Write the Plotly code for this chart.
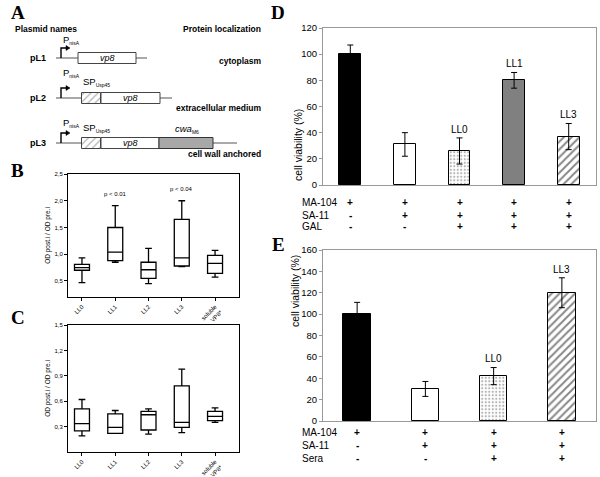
import plotly.graph_objects as go

W, H = 600, 477
SANS = "Liberation Sans, Arial, sans-serif"
SERIF = "Liberation Serif, Times New Roman, serif"

# ---------------- data ----------------
box_cats = ["LL0", "LL1", "LL2", "LL3", "soluble<br>VP8*"]
# panel B
b_low = [0.47, 0.85, 0.45, 0.77, 0.57]
b_q1 = [0.70, 0.88, 0.55, 0.78, 0.64]
b_med = [0.75, 1.04, 0.71, 0.93, 0.83]
b_q3 = [0.81, 1.50, 0.85, 1.65, 0.98]
b_high = [0.93, 1.91, 1.11, 2.00, 1.07]
b_pvals = {"LL1": ("p < 0.01", 2.04), "LL3": ("p < 0.04", 2.12)}
# panel C
c_low = [0.19, 0.22, 0.21, 0.23, 0.35]
c_q1 = [0.25, 0.22, 0.26, 0.29, 0.37]
c_med = [0.335, 0.29, 0.44, 0.35, 0.42]
c_q3 = [0.51, 0.45, 0.48, 0.78, 0.48]
c_high = [0.62, 0.49, 0.51, 0.98, 0.52]
c_tickvals = [0.3, 0.6, 0.9, 1.2, 1.5]
c_ticktext = ["0,3", "0,6", "0,9", "1,2", "1,5"]
b_tickvals = [0.5, 1.0, 1.5, 2.0, 2.5]
b_ticktext = ["0,5", "1,0", "1,5", "2,0", "2,5"]

# panel D
d_vals = [100, 31, 26, 80, 37]
d_err = [7, 9, 10, 6, 10]
d_labels = ["", "", "LL0", "LL1", "LL3"]
d_rows = ["MA-104", "SA-11", "GAL"]
d_table = [["+", "+", "+", "+", "+"],
           ["-", "+", "+", "+", "+"],
           ["-", "-", "+", "+", "+"]]
# panel E
e_vals = [100, 30, 42, 120]
e_err = [11, 7, 8, 14]
e_labels = ["", "", "LL0", "LL3"]
e_rows = ["MA-104", "SA-11", "Sera"]
e_table = [["+", "+", "+", "+"],
           ["-", "+", "+", "+"],
           ["-", "-", "+", "+"]]

# panel A constructs
plasmids = ["pL1", "pL2", "pL3"]
localization = ["cytoplasm", "extracellular medium", "cell wall anchored"]

# bar styles: (fill colour, pattern shape)
d_styles = [("black", ""), ("white", ""), ("white", "."), ("#808080", ""), ("white", "/")]
e_styles = [("black", ""), ("white", ""), ("white", "."), ("white", "/")]


def px(x):
    return x / W


def py(y):
    return 1 - y / H


fig = go.Figure()
annotations = []
shapes = []

# ---------------- panel B ----------------
for i, c in enumerate(box_cats):
    fig.add_trace(go.Box(
        x=[c], q1=[b_q1[i]], median=[b_med[i]], q3=[b_q3[i]],
        lowerfence=[b_low[i]], upperfence=[b_high[i]],
        xaxis="x", yaxis="y", fillcolor="white",
        line=dict(color="black", width=1.3), whiskerwidth=0.45,
        width=0.45, showlegend=False, hoverinfo="skip"))
for k, (t, yv) in b_pvals.items():
    annotations.append(dict(x=k, y=yv, xref="x", yref="y", text=t, showarrow=False,
                            font=dict(size=6, family=SANS, color="black"), yanchor="bottom"))

# ---------------- panel C ----------------
for i, c in enumerate(box_cats):
    fig.add_trace(go.Box(
        x=[c], q1=[c_q1[i]], median=[c_med[i]], q3=[c_q3[i]],
        lowerfence=[c_low[i]], upperfence=[c_high[i]],
        xaxis="x2", yaxis="y2", fillcolor="white",
        line=dict(color="black", width=1.3), whiskerwidth=0.45,
        width=0.45, showlegend=False, hoverinfo="skip"))

box_x_common = dict(
    tickangle=-45, tickfont=dict(size=6, family=SANS, color="black"),
    showline=True, linecolor="black", linewidth=1, mirror=True,
    ticks="outside", ticklen=3, tickcolor="black", showgrid=False,
    range=[-0.42, 4.72], automargin=False)
box_y_common = dict(
    tickfont=dict(size=6, family=SANS, color="black"),
    showline=True, linecolor="black", linewidth=1, mirror=True,
    ticks="outside", ticklen=3, tickcolor="black", showgrid=False, zeroline=False,
    automargin=False,
    title=dict(text="OD post.i / OD pre.i", font=dict(size=6.5, family=SANS, color="black"), standoff=3))


def add_bars(vals, errs, styles, xa, ya):
    for i, (v, e, (col, shp)) in enumerate(zip(vals, errs, styles)):
        if shp == "/":
            pat = dict(shape="/", fillmode="overlay", fgcolor="#111", size=5.5, solidity=0.35)
        elif shp == ".":
            pat = dict(shape=".", fillmode="overlay", fgcolor="#666", size=3.5, solidity=0.3)
        else:
            pat = dict(shape="")
        fig.add_trace(go.Bar(
            x=[i], y=[v], xaxis=xa, yaxis=ya, width=0.4,
            marker=dict(color=col, line=dict(color="black", width=1), pattern=pat),
            error_y=dict(type="data", array=[e], color="black", thickness=1, width=3),
            showlegend=False, hoverinfo="skip"))


# ---------------- panel D ----------------
add_bars(d_vals, d_err, d_styles, "x3", "y3")
for i, t in enumerate(d_labels):
    if t:
        annotations.append(dict(x=i, y=d_vals[i] + d_err[i] + 1, xref="x3", yref="y3", text=t,
                                showarrow=False, yanchor="bottom",
                                font=dict(size=10, family=SANS, color="black")))
d_row_y = [202, 215, 227]
for r, name in enumerate(d_rows):
    annotations.append(dict(x=px(300), y=py(d_row_y[r]), xref="paper", yref="paper", text=name,
                            showarrow=False, xanchor="left", font=dict(size=10, family=SANS, color="black")))
    for i, s in enumerate(d_table[r]):
        annotations.append(dict(x=i, y=py(d_row_y[r]), xref="x3", yref="paper", text="<b>%s</b>" % s,
                                showarrow=False, font=dict(size=10, family=SANS, color="black")))

# ---------------- panel E ----------------
add_bars(e_vals, e_err, e_styles, "x4", "y4")
for i, t in enumerate(e_labels):
    if t:
        annotations.append(dict(x=i, y=e_vals[i] + e_err[i] + 1, xref="x4", yref="y4", text=t,
                                showarrow=False, yanchor="bottom",
                                font=dict(size=10, family=SANS, color="black")))
e_row_y = [440, 453, 466]
for r, name in enumerate(e_rows):
    annotations.append(dict(x=px(300), y=py(e_row_y[r]), xref="paper", yref="paper", text=name,
                            showarrow=False, xanchor="left", font=dict(size=10, family=SANS, color="black")))
    for i, s in enumerate(e_table[r]):
        annotations.append(dict(x=i, y=py(e_row_y[r]), xref="x4", yref="paper", text="<b>%s</b>" % s,
                                showarrow=False, font=dict(size=10, family=SANS, color="black")))

# y titles for D and E (placed close to the tick labels, as in the original)
annotations.append(dict(x=px(298), y=py(107), xref="paper", yref="paper", text="cell viability (%)",
                        textangle=-90, showarrow=False, font=dict(size=10.5, family=SANS, color="black")))
annotations.append(dict(x=px(295), y=py(329), xref="paper", yref="paper", text="cell viability (%)",
                        textangle=-90, showarrow=False, font=dict(size=10.5, family=SANS, color="black")))

bar_y_common = dict(
    tickfont=dict(size=9.5, family=SANS, color="black"),
    showline=True, linecolor="#999", linewidth=1, mirror=True,
    ticks="outside", ticklen=3, tickcolor="#999", showgrid=False, zeroline=False,
    automargin=False)
bar_x_common = dict(showline=True, linecolor="#999", linewidth=1, mirror=True,
                    showticklabels=False, ticks="", showgrid=False, zeroline=False, automargin=False)

# ---------------- panel A (diagram) ----------------
row_y = [58, 98, 143]
line_end = [147, 172, 237]
p_off = [-18, -25, -20]
prom_x = 61
SUB = "<span style='font-size:5px'>%s</span>"
for r in range(3):
    y0 = row_y[r]
    shapes.append(dict(type="line", xref="x5", yref="y5", x0=56, x1=line_end[r], y0=y0, y1=y0,
                       line=dict(color="#555", width=1.2), layer="below"))
    # promoter arrow
    shapes.append(dict(type="path", xref="x5", yref="y5",
                       path="M %d %d L %d %d L %d %d" % (prom_x, y0, prom_x, y0 - 10, prom_x + 5, y0 - 10),
                       line=dict(color="black", width=1.4)))
    shapes.append(dict(type="path", xref="x5", yref="y5",
                       path="M %d %.1f L %d %d L %d %.1f Z" % (prom_x + 5, y0 - 12.5, prom_x + 9, y0 - 10, prom_x + 5, y0 - 7.5),
                       fillcolor="black", line=dict(color="black", width=0.5)))
    annotations.append(dict(x=prom_x, y=y0 + p_off[r], xref="x5", yref="y5",
                            text="P<sub>" + SUB % "nisA" + "</sub>", showarrow=False, xanchor="left",
                            font=dict(size=9.5, family=SANS, color="black")))
    annotations.append(dict(x=28, y=y0, xref="x5", yref="y5", text="<b>%s</b>" % plasmids[r],
                            showarrow=False, xanchor="left", font=dict(size=9, family=SANS, color="black")))
    annotations.append(dict(x=263, y=y0 + (3 if r == 0 else 10 if r == 1 else 11), xref="x5", yref="y5",
                            text="<b>%s</b>" % localization[r], showarrow=False, xanchor="right",
                            font=dict(size=8.5, family=SANS, color="black")))

# vp8 boxes
vp8_boxes = [(78, 136), (101, 160), (101, 159)]
for r, (x0, x1) in enumerate(vp8_boxes):
    y0 = row_y[r]
    shapes.append(dict(type="rect", xref="x5", yref="y5", x0=x0, x1=x1, y0=y0 - 5.5, y1=y0 + 5.5,
                       fillcolor="white", line=dict(color="#444", width=1)))
    annotations.append(dict(x=(x0 + x1) / 2, y=y0, xref="x5", yref="y5", text="<i>vp8</i>",
                            showarrow=False, font=dict(size=9, family=SANS, color="black")))
# signal peptide (hatched) boxes
sp_rows = [1, 2]
sp_off = [-16, -15]
fig.add_trace(go.Bar(
    y=[row_y[r] for r in sp_rows], x=[19, 19], base=[82, 82], orientation="h", width=11,
    xaxis="x5", yaxis="y5",
    marker=dict(color="white", line=dict(color="#444", width=1),
                pattern=dict(shape="/", fillmode="overlay", fgcolor="#666", size=5, solidity=0.25)),
    showlegend=False, hoverinfo="skip"))
for j, r in enumerate(sp_rows):
    annotations.append(dict(x=81, y=row_y[r] + sp_off[j], xref="x5", yref="y5",
                            text="SP<sub>" + SUB % "Usp45" + "</sub>", showarrow=False, xanchor="left",
                            font=dict(size=9.5, family=SANS, color="black")))
# cell wall anchor
shapes.append(dict(type="rect", xref="x5", yref="y5", x0=159, x1=213, y0=row_y[2] - 5.5, y1=row_y[2] + 5.5,
                   fillcolor="#a8a8a8", line=dict(color="#333", width=1)))
annotations.append(dict(x=187, y=row_y[2] - 14, xref="x5", yref="y5",
                        text="<i>cwa</i><sub>" + SUB % "M6" + "</sub>",
                        showarrow=False, font=dict(size=9.5, family=SANS, color="black")))
annotations.append(dict(x=13, y=29, xref="x5", yref="y5", text="<b>Plasmid names</b>", showarrow=False,
                        xanchor="left", font=dict(size=8.5, family=SANS, color="black")))
annotations.append(dict(x=263, y=29, xref="x5", yref="y5", text="<b>Protein localization</b>", showarrow=False,
                        xanchor="right", font=dict(size=8.5, family=SANS, color="black")))

# panel letters (top of the text box, pixels from the top)
for letter, (lx, ly) in {"A": (9, 0), "B": (9, 158), "C": (9, 305), "D": (278, 0), "E": (278, 232)}.items():
    annotations.append(dict(x=px(lx), y=py(ly), xref="paper", yref="paper", text="<b>%s</b>" % letter,
                            yanchor="top", showarrow=False, font=dict(size=19, family=SERIF, color="black")))

fig.update_layout(
    template="none",
    width=W, height=H, margin=dict(l=0, r=0, t=0, b=0, pad=0, autoexpand=False),
    paper_bgcolor="white", plot_bgcolor="white", separators=",.",
    font=dict(family=SANS, size=10, color="black"),
    xaxis=dict(domain=[px(68), px(239)], anchor="y", **box_x_common),
    yaxis=dict(domain=[py(297), py(174)], anchor="x", range=[0.2, 2.5],
               tickvals=b_tickvals, ticktext=b_ticktext, **box_y_common),
    xaxis2=dict(domain=[px(68), px(239)], anchor="y2", **box_x_common),
    yaxis2=dict(domain=[py(452), py(325)], anchor="x2", range=[0, 1.5],
                tickvals=c_tickvals, ticktext=c_ticktext, **box_y_common),
    xaxis3=dict(domain=[px(323), px(596)], anchor="y3", range=[-0.5, 4.5], **bar_x_common),
    yaxis3=dict(domain=[py(185), py(28)], anchor="x3", range=[0, 120], dtick=20, **bar_y_common),
    xaxis4=dict(domain=[px(323), px(596)], anchor="y4", range=[-0.5, 3.5], **bar_x_common),
    yaxis4=dict(domain=[py(421), py(250)], anchor="x4", range=[0, 160], dtick=20, **bar_y_common),
    xaxis5=dict(domain=[0, 0.5], anchor="y5", range=[0, 300], visible=False, fixedrange=True, automargin=False),
    yaxis5=dict(domain=[py(170), 1], anchor="x5", range=[170, 0], visible=False, fixedrange=True, automargin=False),
    annotations=annotations, shapes=shapes, bargap=0, barmode="overlay",
)

fig.write_html("out.html", config={"displayModeBar": False},
               post_script="document.body.style.margin='0px';")
